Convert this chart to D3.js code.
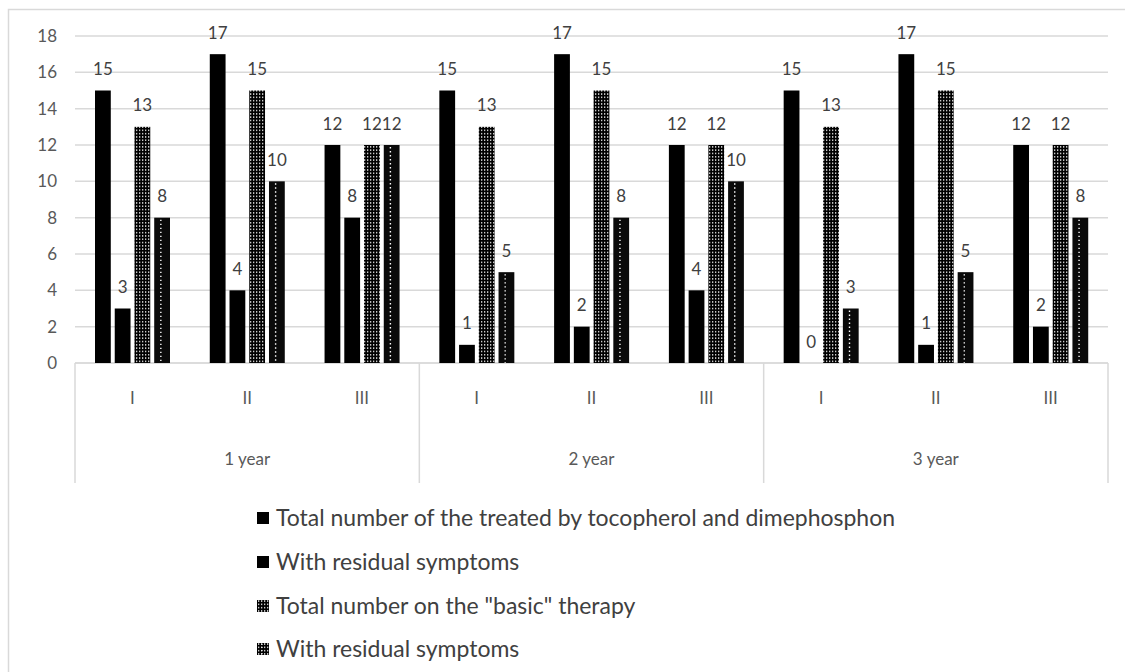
<!DOCTYPE html>
<html><head><meta charset="utf-8">
<script src="https://cdn.jsdelivr.net/npm/d3@7"></script>
<style>body{margin:0;background:#fff}svg{display:block}</style>
</head><body>
<svg id="c" width="1125" height="672"></svg>
<script>
const years = ["1 year", "2 year", "3 year"];
const stages = ["I", "II", "III"];
const seriesNames = [
  "Total number of the treated by tocopherol and dimephosphon",
  "With residual symptoms",
  "Total number on the \"basic\" therapy",
  "With residual symptoms"
];
const totalTreated   = [15, 17, 12, 15, 17, 12, 15, 17, 12];
const residualTreated= [3, 4, 8, 1, 2, 4, 0, 1, 2];
const totalBasic     = [13, 15, 12, 13, 15, 12, 13, 15, 12];
const residualBasic  = [8, 10, 12, 5, 8, 10, 3, 5, 8];
const yTicks = [0, 2, 4, 6, 8, 10, 12, 14, 16, 18];

const series = [totalTreated, residualTreated, totalBasic, residualBasic];
const cats = [];
years.forEach(y => stages.forEach(s => cats.push({year: y, stage: s, key: y + "|" + s})));

const FONT = "Lato, 'Open Sans', sans-serif";
const svg = d3.select("#c");
const defs = svg.append("defs");
const p3 = defs.append("pattern").attr("id", "grid").attr("patternUnits", "userSpaceOnUse")
  .attr("width", 3).attr("height", 3.3);
p3.append("rect").attr("width", 3).attr("height", 3.3).attr("fill", "#000");
p3.append("rect").attr("x", 1).attr("y", 1).attr("width", 1.3).attr("height", 1.3).attr("fill", "#fff");

const margin = {left: 75, right: 1108, top: 36, bottom: 363};
const x0 = d3.scaleBand().domain(cats.map(d => d.key)).range([margin.left, margin.right]).padding(0);
const x1 = d3.scaleBand().domain(d3.range(4)).range([20, 95]).paddingInner(0.2);
const y = d3.scaleLinear().domain([0, 18]).range([margin.bottom, margin.top]);

const textCol = "#595959";
// outer border
svg.append("rect").attr("x", 8.5).attr("y", 9.5).attr("width", 1130).attr("height", 700)
  .attr("fill", "none").attr("stroke", "#d9d9d9").attr("stroke-width", 1.5);

// gridlines
svg.append("g").selectAll("line").data(yTicks).join("line")
  .attr("x1", margin.left).attr("x2", margin.right)
  .attr("y1", d => y(d)).attr("y2", d => y(d))
  .attr("stroke", d => d === 0 ? "#d0d0d0" : "#d9d9d9").attr("stroke-width", 1.5);

// y axis labels
const yAxis = d3.axisLeft(y).tickValues(yTicks).tickSize(0).tickPadding(0);
const ya = svg.append("g").attr("transform", "translate(57,0)").call(yAxis);
ya.select(".domain").remove();
ya.selectAll("text").attr("fill", textCol).style("font-family", FONT).style("font-size", "17px");

// category separators
const sepX = [0, 3, 6].map(i => x0(cats[i].key)).concat([margin.right]);
svg.append("g").selectAll("line").data(sepX).join("line")
  .attr("x1", d => d).attr("x2", d => d).attr("y1", margin.bottom).attr("y2", 483)
  .attr("stroke", "#d9d9d9").attr("stroke-width", 1.5);

// stage labels
svg.append("g").selectAll("text").data(cats).join("text")
  .attr("x", d => x0(d.key) + x0.bandwidth() / 2).attr("y", 404)
  .attr("text-anchor", "middle").attr("fill", textCol)
  .style("font-family", FONT).style("font-size", "17px").text(d => d.stage);
// year labels
svg.append("g").selectAll("text").data(years).join("text")
  .attr("x", (d, i) => (sepX[i] + sepX[i + 1]) / 2).attr("y", 465)
  .attr("text-anchor", "middle").attr("fill", textCol)
  .style("font-family", FONT).style("font-size", "17px").text(d => d);

// bars
const fills = ["#000", "#000", "url(#grid)", "#0a0a0a"];
const bars = [];
series.forEach((vals, si) => vals.forEach((v, ci) => bars.push({si, ci, v})));
const g = svg.append("g");
g.selectAll("rect").data(bars).join("rect")
  .attr("x", d => x0(cats[d.ci].key) + x1(d.si))
  .attr("width", x1.bandwidth())
  .attr("y", d => y(d.v)).attr("height", d => y(0) - y(d.v))
  .attr("fill", d => fills[d.si]);
// sparse dots for series 4
g.selectAll("line.dots").data(bars.filter(d => d.si === 3 && d.v > 0)).join("line")
  .attr("class", "dots")
  .attr("x1", d => x0(cats[d.ci].key) + x1(d.si) + x1.bandwidth() * 0.42)
  .attr("x2", d => x0(cats[d.ci].key) + x1(d.si) + x1.bandwidth() * 0.42)
  .attr("y1", d => y(d.v) + 2).attr("y2", y(0))
  .attr("stroke", "#fff").attr("stroke-width", 1.4).attr("stroke-dasharray", "1.4,2.6");

// value labels
svg.append("g").selectAll("text").data(bars).join("text")
  .attr("x", d => x0(cats[d.ci].key) + x1(d.si) + x1.bandwidth() / 2)
  .attr("y", d => y(d.v) - 15.5)
  .attr("text-anchor", "middle").attr("fill", "#404040")
  .style("font-family", FONT).style("font-size", "17px").text(d => d.v);

// legend
const legY = [518, 562, 606, 649];
const leg = svg.append("g").selectAll("g").data(seriesNames).join("g")
  .attr("transform", (d, i) => `translate(257,${legY[i]})`);
leg.append("rect").attr("x", 0).attr("y", -6).attr("width", 12).attr("height", 12)
  .attr("fill", (d, i) => i >= 2 ? "url(#grid)" : "#000");
leg.filter((d, i) => i === 3).append("line")
  .attr("x1", 5).attr("x2", 5).attr("y1", -5).attr("y2", 6)
  .attr("stroke", "#fff").attr("stroke-width", 1).attr("stroke-dasharray", "1,2");
leg.append("text").attr("x", 19).attr("y", 0).attr("dy", "0.36em")
  .attr("fill", "#404040").style("font-family", FONT).style("font-size", "20px")
  .text(d => d)
  .each(function(d, i) {
    if (i === 0) {
      const w = this.getComputedTextLength();
      const target = 619;
      const fs = 20 * target / w;
      d3.select(this.parentNode.parentNode).selectAll("text").style("font-size", fs.toFixed(2) + "px");
    }
  });
</script>
</body></html>
